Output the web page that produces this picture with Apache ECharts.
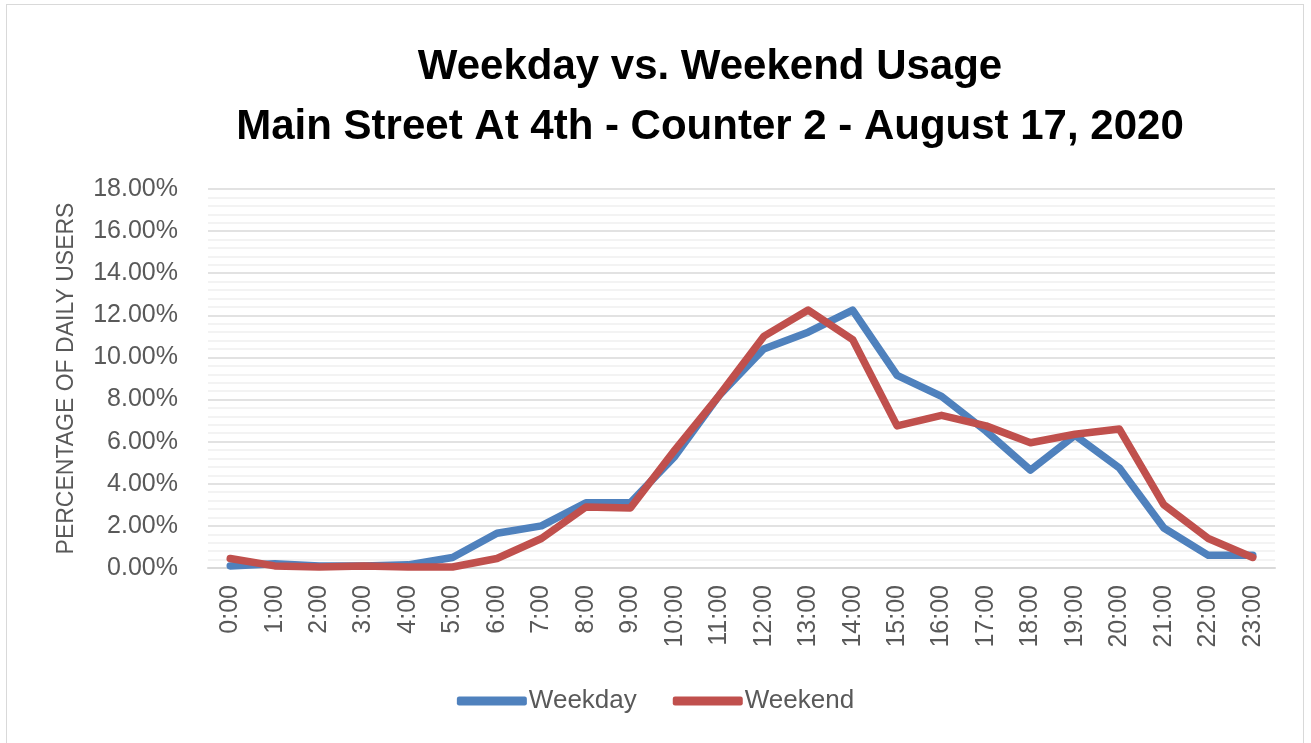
<!DOCTYPE html>
<html><head><meta charset="utf-8">
<script src="https://cdn.jsdelivr.net/npm/echarts@6/dist/echarts.min.js"></script>
<style>
html,body{margin:0;padding:0;background:#fff;}
#frame{position:absolute;left:6px;top:4px;width:1298px;height:745px;border:1px solid #d9d9d9;box-sizing:border-box;}
#c{position:absolute;left:0;top:0;width:1311px;height:743px;}
</style></head>
<body><div id="frame"></div><div id="c"></div>
<script>
const hours = ['0:00','1:00','2:00','3:00','4:00','5:00','6:00','7:00','8:00','9:00','10:00','11:00','12:00','13:00','14:00','15:00','16:00','17:00','18:00','19:00','20:00','21:00','22:00','23:00'];
const weekday = [0.1,0.2,0.1,0.1,0.15,0.5,1.65,2.0,3.1,3.1,5.3,8.2,10.4,11.2,12.25,9.15,8.15,6.5,4.65,6.3,4.75,1.9,0.6,0.6];
const weekend = [0.45,0.1,0.05,0.1,0.05,0.05,0.45,1.4,2.9,2.85,5.6,8.2,11.0,12.25,10.85,6.75,7.25,6.75,5.95,6.35,6.6,3.0,1.4,0.5];
const titleLines = ['Weekday vs. Weekend Usage','Main Street At 4th - Counter 2 - August 17, 2020'];
const yTitle = 'PERCENTAGE OF DAILY USERS';

const chart = echarts.init(document.getElementById('c'));
chart.setOption({
  animation:false,
  title:{text:titleLines.join('\n'),left:710,textAlign:'center',top:37,padding:0,
    textStyle:{fontFamily:'Liberation Sans',fontWeight:'bold',fontSize:42,color:'#000',lineHeight:60}},
  legend:{bottom:24,left:'center',itemWidth:70,itemHeight:9,itemGap:36,icon:'roundRect',
    padding:[5,0,5,18],
    textStyle:{fontFamily:'Liberation Sans',fontSize:26,color:'#595959',padding:[0,0,0,-3]},
    data:['Weekday','Weekend']},
  grid:{left:208,right:36,top:189,bottom:175},
  xAxis:{type:'category',data:hours,boundaryGap:true,
    axisLine:{lineStyle:{color:'#d9d9d9',width:2}},axisTick:{show:false},
    axisLabel:{rotate:90,fontFamily:'Liberation Sans',fontSize:25,color:'#595959',margin:17,interval:0}},
  yAxis:{type:'value',min:0,max:18,interval:2,
    name:yTitle,nameLocation:'middle',nameGap:130,nameRotate:90,
    nameTextStyle:{fontFamily:'Liberation Sans',fontSize:23,color:'#595959'},
    axisLine:{show:false},axisTick:{show:false},
    axisLabel:{formatter:v=>v.toFixed(2)+'%',fontFamily:'Liberation Sans',fontSize:25,color:'#595959',margin:30},
    splitLine:{lineStyle:{color:'#d9d9d9',width:1.5}},
    minorTick:{show:false,splitNumber:5},
    minorSplitLine:{show:true,lineStyle:{color:'#efefef',width:1.5}}},
  series:[
    {name:'Weekday',type:'line',data:weekday,symbol:'none',lineStyle:{width:7.5,color:'#4F81BD',cap:'round',join:'round'},itemStyle:{color:'#4F81BD'}},
    {name:'Weekend',type:'line',data:weekend,symbol:'none',lineStyle:{width:7.5,color:'#C0504D',cap:'round',join:'round'},itemStyle:{color:'#C0504D'}}
  ]
});
</script></body></html>
